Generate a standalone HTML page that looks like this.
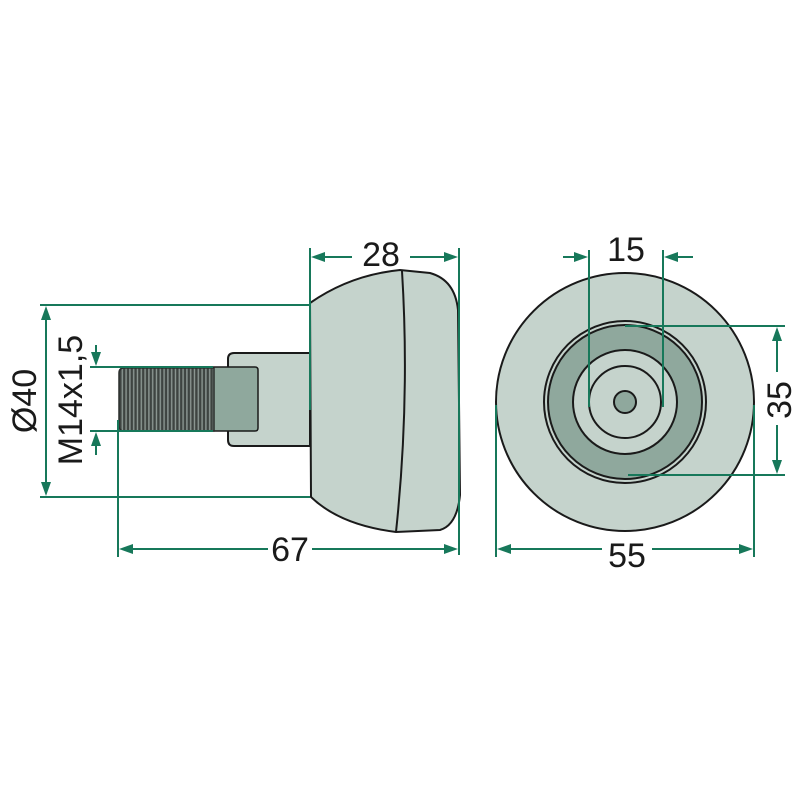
<!DOCTYPE html>
<html><head><style>
html,body{margin:0;padding:0;background:#fff;}
svg{display:block}
text{font-family:"Liberation Sans",sans-serif;fill:#1a1a1a;font-size:34px}
</style></head><body>
<svg width="800" height="800" viewBox="0 0 800 800">
<defs>
<pattern id="thr" x="120" y="0" width="3.8" height="10" patternUnits="userSpaceOnUse">
<rect width="3.8" height="10" fill="#3e4441"/>
<rect x="1.6" width="1.4" height="10" fill="#8c9893"/>
</pattern>
</defs>
<!-- left view -->
<g stroke="#1a1a1a" stroke-width="2">
<path d="M310,303 Q350,275 400,270 L430,273 Q455,280 458,310 L460,495 Q457,525 440,530 L396,532 Q340,525 311,497 Z" fill="#c5d3cc"/>
<path d="M402,271 Q410,400 396,532" fill="none"/>
<path d="M310,353 L234,353 Q228,353 228,359 L228,440 Q228,446 234,446 L310,446 Z" fill="#c5d3cc"/>
<path d="M213,367 L255,367 Q258,367 258,370 L258,428 Q258,431 255,431 L213,431 Z" fill="#8fa89d" stroke-width="1.5"/>
<path d="M124,368 L214,368 L214,431 L124,431 Q119,431 119,426 L119,373 Q119,368 124,368 Z" fill="url(#thr)" stroke="#2a2e2c" stroke-width="1.5"/>
</g>
<!-- right view -->
<g stroke="#1a1a1a" stroke-width="2">
<circle cx="625" cy="402" r="129" fill="#c5d3cc"/>
<circle cx="625" cy="402" r="81" fill="#c5d3cc"/>
<circle cx="625" cy="402" r="77" fill="#8fa89d"/>
<circle cx="625" cy="402" r="52" fill="#c5d3cc"/>
<circle cx="625" cy="402" r="36" fill="#c5d3cc"/>
<circle cx="625" cy="402" r="11" fill="#8fa89d"/>
</g>
<!-- dimensions -->
<g stroke="#17785a" stroke-width="2" fill="none">
<line x1="310" y1="248" x2="310" y2="410"/>
<line x1="459" y1="248" x2="459" y2="555"/>
<line x1="314" y1="257" x2="352" y2="257"/>
<line x1="410" y1="257" x2="455" y2="257"/>
<line x1="40" y1="305" x2="310" y2="305"/>
<line x1="40" y1="497" x2="310" y2="497"/>
<line x1="46" y1="309" x2="46" y2="493"/>
<line x1="90" y1="367" x2="213" y2="367"/>
<line x1="90" y1="431" x2="213" y2="431"/>
<line x1="96" y1="345" x2="96" y2="363"/>
<line x1="96" y1="435" x2="96" y2="455"/>
<line x1="118" y1="420" x2="118" y2="557"/>
<line x1="122" y1="549" x2="268" y2="549"/>
<line x1="312" y1="549" x2="455" y2="549"/>
<line x1="589" y1="250" x2="589" y2="407"/>
<line x1="663" y1="250" x2="663" y2="407"/>
<line x1="563" y1="257" x2="585" y2="257"/>
<line x1="667" y1="257" x2="693" y2="257"/>
<line x1="625" y1="326" x2="785" y2="326"/>
<line x1="628" y1="475" x2="785" y2="475"/>
<line x1="777" y1="330" x2="777" y2="372"/>
<line x1="777" y1="425" x2="777" y2="471"/>
<line x1="496" y1="405" x2="496" y2="557"/>
<line x1="754" y1="405" x2="754" y2="557"/>
<line x1="500" y1="549" x2="602" y2="549"/>
<line x1="652" y1="549" x2="750" y2="549"/>
</g>
<g fill="#17785a">
<polygon points="311,257 325,252 325,262"/>
<polygon points="458,257 444,252 444,262"/>
<polygon points="46,306 41,320 51,320"/>
<polygon points="46,496 41,482 51,482"/>
<polygon points="96,366 91,352 101,352"/>
<polygon points="96,432 91,446 101,446"/>
<polygon points="119,549 133,544 133,554"/>
<polygon points="458,549 444,544 444,554"/>
<polygon points="588,257 574,252 574,262"/>
<polygon points="664,257 678,252 678,262"/>
<polygon points="777,327 772,341 782,341"/>
<polygon points="777,474 772,460 782,460"/>
<polygon points="497,549 511,544 511,554"/>
<polygon points="753,549 739,544 739,554"/>
</g>
<text x="381" y="266" text-anchor="middle">28</text>
<text x="290" y="561" text-anchor="middle">67</text>
<text x="626" y="261" text-anchor="middle">15</text>
<text x="627" y="567" text-anchor="middle">55</text>
<text transform="translate(791,400) rotate(-90)" text-anchor="middle">35</text>
<text transform="translate(36,401) rotate(-90)" text-anchor="middle">Ø40</text>
<text transform="translate(82,400) rotate(-90)" text-anchor="middle">M14x1,5</text>
</svg>
</body></html>
